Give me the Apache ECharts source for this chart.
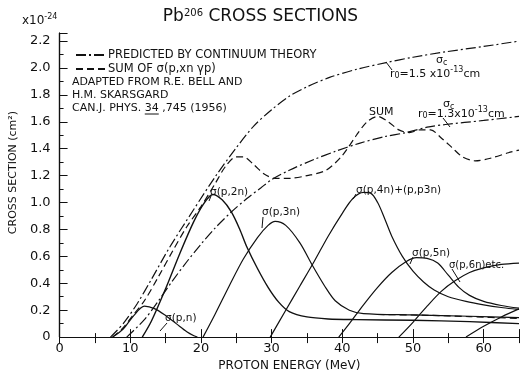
<!DOCTYPE html>
<html>
<head>
<meta charset="utf-8">
<script src="https://cdn.jsdelivr.net/npm/echarts@6/dist/echarts.min.js"></script>
<style>
  html, body { margin: 0; padding: 0; background: #fff; }
  #main { width: 521px; height: 377px; }
</style>
</head>
<body>
<div id="main"></div>
<script>
// values: [proton energy MeV, cross section x1e-24 cm2]
var rc15 = [[7.2, 0], [9, 0.1], [11, 0.25], [13, 0.43], [15.6, 0.67], [19, 0.95], [22, 1.19], [24.9, 1.4],
  [27.5, 1.57], [30, 1.69], [32.5, 1.79], [35, 1.86], [38.2, 1.93], [42, 1.99], [46.2, 2.04], [50, 2.08],
  [54.6, 2.12], [60, 2.16], [65, 2.2]];
var rc13 = [[9.5, 0], [12, 0.13], [14, 0.27], [16, 0.42], [18, 0.56], [20, 0.69], [22, 0.81], [24.3, 0.93],
  [26.5, 1.03], [28.5, 1.11], [30, 1.17], [32.5, 1.24], [36, 1.32], [39, 1.38], [42.4, 1.44], [46, 1.49],
  [49, 1.52], [52, 1.56], [54.6, 1.58], [60, 1.61], [65, 1.64]];
var sum = [[7.5, 0], [9, 0.07], [10.5, 0.17], [12, 0.27], [14, 0.45], [16, 0.64], [18, 0.82], [20, 0.97],
  [22, 1.14], [23.5, 1.27], [25, 1.34], [26, 1.34], [27.5, 1.28], [29, 1.21], [30.5, 1.18], [32.5, 1.18],
  [35, 1.2], [37.7, 1.24], [40, 1.35], [42, 1.5], [43.5, 1.6], [45, 1.64], [46.5, 1.6], [48, 1.54],
  [49.5, 1.52], [51, 1.54], [52.5, 1.54], [54, 1.48], [55.5, 1.41], [57, 1.34], [58.8, 1.31], [61, 1.33],
  [63.5, 1.37], [65, 1.39]];
var pn = [[7.5, 0], [9, 0.06], [10.5, 0.16], [12, 0.23], [13.5, 0.21], [15, 0.16], [16.5, 0.1], [18, 0.04],
  [19, 0.01], [19.5, 0]];
var p2n = [[11.7, 0], [13, 0.12], [15, 0.36], [17, 0.62], [19, 0.86], [20.5, 1.0], [21.7, 1.06], [23, 1.02],
  [24.3, 0.93], [25.5, 0.8], [26.5, 0.67], [28, 0.51], [29.5, 0.37], [31, 0.26], [32.5, 0.19], [35, 0.15],
  [38, 0.135], [42, 0.13], [50, 0.125], [58, 0.115], [65, 0.1]];
var p3n = [[20.3, 0], [22, 0.17], [24, 0.38], [26, 0.58], [28, 0.74], [29.5, 0.83], [30.5, 0.86], [32, 0.83],
  [34, 0.7], [35.8, 0.53], [37.5, 0.38], [39, 0.27], [41, 0.2], [43, 0.175], [50, 0.165], [58, 0.155],
  [65, 0.145]];
var p4n = [[29.8, 0], [32, 0.2], [34, 0.38], [36, 0.56], [38, 0.75], [40, 0.92], [41.5, 1.03], [43, 1.075],
  [44, 1.07], [45, 1.0], [46, 0.88], [47, 0.75], [48.5, 0.6], [50, 0.49], [51.5, 0.41], [53, 0.35],
  [55, 0.3], [57.5, 0.265], [60, 0.24], [62.5, 0.22], [65, 0.205]];
var p5n = [[39.5, 0], [41, 0.1], [43, 0.24], [45, 0.37], [47, 0.48], [49, 0.56], [50.5, 0.59], [52, 0.585],
  [53.5, 0.55], [55, 0.46], [56.5, 0.37], [58, 0.31], [60, 0.265], [62.5, 0.235], [65, 0.215]];
var p6n = [[48, 0], [50, 0.11], [52, 0.23], [54, 0.34], [56, 0.42], [58, 0.48], [60, 0.515], [62.5, 0.54], [65, 0.55]];
var p7n = [[57.5, 0], [60, 0.08], [62.5, 0.15], [65, 0.21]];
var tailDash = [[45, 0.168], [52, 0.162], [58, 0.152], [65, 0.138]];

var FONT = 'DejaVu Sans';
var INK = '#111';
var dashDot = [10, 3, 2, 3];
var dashed = [7, 4];

var chartDom = document.getElementById('main');
var myChart = echarts.init(chartDom);
var option;

// where the underlined "34" falls in the reference line
var measure = document.createElement('canvas').getContext('2d');
measure.font = '11px "' + FONT + '"';
var ulStart = 72 + measure.measureText('CAN.J. PHYS. ').width;
var ulEnd = ulStart + measure.measureText('34').width;

function curve(name, data, type, width) {
  return {
    name: name,
    type: 'line',
    data: data,
    smooth: 0.3,
    symbol: 'none',
    silent: true,
    lineStyle: { color: INK, width: width || 1.2, type: type || 'solid' },
    itemStyle: { color: INK }
  };
}

function txt(x, y, text, size) {
  return {
    type: 'text',
    x: x,
    y: y,
    style: {
      text: text,
      fill: INK,
      font: (size || 11) + 'px "' + FONT + '"',
      verticalAlign: 'middle',
      rich: {
        s: { fontSize: 8, verticalAlign: 'bottom', padding: [0, 0, 8, 0], fontFamily: FONT, fill: INK },
        b: { fontSize: 8, verticalAlign: 'top', padding: [6, 0, 0, 0], fontFamily: FONT, fill: INK }
      }
    }
  };
}

function seg(x1, y1, x2, y2) {
  return { type: 'line', shape: { x1: x1, y1: y1, x2: x2, y2: y2 }, style: { stroke: INK, lineWidth: 1 } };
}

option = {
  backgroundColor: '#fff',
  animation: false,
  title: {
    text: '{a|Pb}{s|206}{a| CROSS SECTIONS}',
    left: 'center',
    top: 3,
    textStyle: {
      rich: {
        a: { fontFamily: FONT, fontSize: 17, fontWeight: 'normal', color: INK },
        s: { fontFamily: FONT, fontSize: 10, fontWeight: 'normal', color: INK, verticalAlign: 'top', padding: [0, 0, 8, 0] }
      }
    }
  },
  legend: {
    orient: 'vertical',
    left: 70,
    top: 44,
    itemWidth: 30,
    itemHeight: 8,
    itemGap: 2,
    selectedMode: false,
    itemStyle: { opacity: 0 },
    data: ['PREDICTED BY CONTINUUM THEORY', 'SUM OF σ(p,xn γp)'],
    textStyle: { fontFamily: FONT, fontSize: 11.5, color: INK, padding: [0, 0, 0, -3] }
  },
  grid: { left: 59, right: 2, top: 33, bottom: 34 },
  xAxis: [
    {
      type: 'value',
      min: 0,
      max: 65,
      interval: 10,
      name: 'PROTON ENERGY (MeV)',
      nameLocation: 'middle',
      nameGap: 20,
      nameTextStyle: { fontFamily: FONT, fontSize: 12, color: INK },
      axisLine: { lineStyle: { color: INK, width: 1.2 } },
      axisTick: { inside: true, length: 8, lineStyle: { color: INK } },
      minorTick: { show: true, splitNumber: 2, length: 4, lineStyle: { color: INK } },
      axisLabel: { fontFamily: FONT, fontSize: 13, color: INK, margin: 5, showMaxLabel: false },
      splitLine: { show: false }
    },
    {
      type: 'value',
      position: 'top',
      min: 0,
      max: 65,
      interval: 5,
      axisLine: { lineStyle: { color: INK, width: 1.2 } },
      axisTick: { inside: true, length: 6, lineStyle: { color: INK } },
      axisLabel: { show: false },
      splitLine: { show: false }
    }
  ],
  yAxis: [
    {
      type: 'value',
      min: 0,
      max: 2.26,
      interval: 0.2,
      name: 'CROSS SECTION (cm²)',
      nameLocation: 'middle',
      nameGap: 38,
      nameTextStyle: { fontFamily: FONT, fontSize: 11, color: INK, padding: [0, 0, 0, 25] },
      axisLine: { lineStyle: { color: INK, width: 1.2 } },
      axisTick: { inside: true, length: 8, lineStyle: { color: INK } },
      minorTick: { show: true, splitNumber: 2, length: 4, lineStyle: { color: INK } },
      axisLabel: {
        fontFamily: FONT,
        fontSize: 13,
        color: INK,
        margin: 9,
        showMaxLabel: false,
        formatter: function (v) { return v === 0 ? '0' : v.toFixed(1); }
      },
      splitLine: { show: false }
    },
    {
      type: 'value',
      position: 'right',
      min: 0,
      max: 2.26,
      axisLine: { show: true, lineStyle: { color: INK, width: 1.2 } },
      axisTick: { show: false },
      axisLabel: { show: false },
      splitLine: { show: false }
    }
  ],
  graphic: [
    txt(22, 21, 'x10{s|-24}', 12),
    txt(72, 82, 'ADAPTED FROM R.E. BELL AND'),
    txt(72, 95, 'H.M. SKARSGARD'),
    txt(72, 108, 'CAN.J. PHYS. 34 ,745 (1956)'),
    seg(ulStart, 114, ulEnd, 114),
    txt(436, 60, 'σ{b|c}'),
    txt(390, 74, 'r{b|0}=1.5 x10{s|-13}cm'),
    seg(386, 62, 392, 70),
    txt(443, 104, 'σ{b|c}'),
    txt(418, 114, 'r{b|0}=1.3x10{s|-13}cm'),
    seg(443, 118, 450, 127),
    txt(369, 112, 'SUM'),
    txt(210, 192, 'σ(p,2n)', 10.5),
    seg(211, 196, 209, 201),
    txt(262, 212, 'σ(p,3n)', 10.5),
    seg(263, 217, 262, 228),
    txt(356, 190, 'σ(p,4n)+(p,p3n)', 10.5),
    seg(356, 194, 353, 199),
    txt(412, 253, 'σ(p,5n)', 10.5),
    seg(413, 257, 410, 264),
    txt(449, 265, 'σ(p,6n)etc.', 10),
    seg(452, 269, 460, 282),
    txt(165, 318, 'σ(p,n)', 10.5),
    seg(167, 323, 160, 331)
  ],
  series: [
    curve('PREDICTED BY CONTINUUM THEORY', rc15, dashDot),
    curve('PREDICTED BY CONTINUUM THEORY', rc13, dashDot),
    curve('SUM OF σ(p,xn γp)', sum, dashed),
    curve('pn', pn),
    curve('p2n', p2n, 'solid', 1.4),
    curve('p3n', p3n),
    curve('p4n', p4n),
    curve('p5n', p5n),
    curve('p6n', p6n),
    curve('p7n', p7n),
    curve('tail', tailDash, dashed)
  ]
};

option && myChart.setOption(option);
</script>
</body>
</html>
